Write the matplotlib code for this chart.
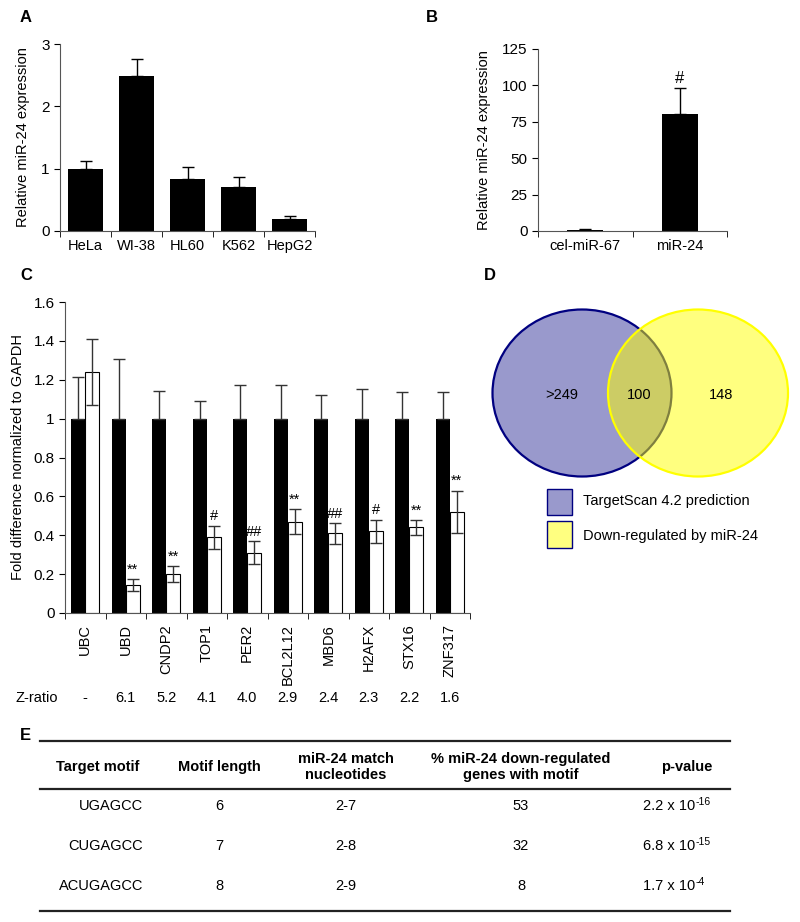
import matplotlib
matplotlib.use("Agg")
import matplotlib.pyplot as plt
from matplotlib.patches import Ellipse, Rectangle
import numpy as np

plt.rcParams['font.family'] = ['Liberation Sans', 'DejaVu Sans']
plt.rcParams['mathtext.default'] = 'regular'

W, H = 800, 922

# panel A
cell_lines = ["HeLa", "WI-38", "HL60", "K562", "HepG2"]
cell_expr = [1.0, 2.49, 0.84, 0.70, 0.20]
cell_err = [0.13, 0.27, 0.18, 0.16, 0.035]

# panel B
transfections = ["cel-miR-67", "miR-24"]
transf_expr = [1.0, 80.7]
transf_err = [0.5, 17.5]

# panel C
genes = ["UBC", "UBD", "CNDP2", "TOP1", "PER2", "BCL2L12", "MBD6", "H2AFX", "STX16", "ZNF317"]
ctrl_fold = [1, 1, 1, 1, 1, 1, 1, 1, 1, 1]
ctrl_err = [0.215, 0.305, 0.14, 0.093, 0.172, 0.172, 0.12, 0.15, 0.137, 0.137]
mir_fold = [1.24, 0.145, 0.20, 0.39, 0.31, 0.47, 0.41, 0.42, 0.44, 0.52]
mir_err = [0.17, 0.03, 0.04, 0.06, 0.06, 0.065, 0.053, 0.06, 0.04, 0.11]
signif = ["", "**", "**", "#", "##", "**", "##", "#", "**", "**"]
z_ratio = ["-", "6.1", "5.2", "4.1", "4.0", "2.9", "2.4", "2.3", "2.2", "1.6"]

# panel D
venn_counts = [">249", "100", "148"]
venn_labels = ["TargetScan 4.2 prediction", "Down-regulated by miR-24"]

# panel E
table_header = ["Target motif", "Motif length", "miR-24 match\nnucleotides",
                "% miR-24 down-regulated\ngenes with motif", "p-value"]
motifs = ["UGAGCC", "CUGAGCC", "ACUGAGCC"]
motif_len = [6, 7, 8]
match_nt = ["2-7", "2-8", "2-9"]
pct_motif = [53, 32, 8]
p_mant = ["2.2", "6.8", "1.7"]
p_exp = ["-16", "-15", "-4"]


def ax_at(l, t, r, b):
    return fig.add_axes([l / W, 1 - b / H, (r - l) / W, (b - t) / H])


def ftext(x, y, s, **kw):
    fig.text(x / W, 1 - y / H, s, **kw)


def excel_style(ax, n):
    for s in ["top", "right"]:
        ax.spines[s].set_visible(False)
    ax.set_xlim(-0.5, n - 0.5)
    ax.set_xticks(np.arange(n))
    ax.tick_params(axis="x", length=0, pad=6)
    ax.set_xticks(np.arange(n + 1) - 0.5, minor=True)
    ax.tick_params(axis="x", which="minor", length=4, direction="out")
    ax.tick_params(axis="y", length=4, direction="out", labelsize=11)
    for s in ["left", "bottom"]:
        ax.spines[s].set_color("#555555")


fig = plt.figure(figsize=(W / 100, H / 100), dpi=100)

# ---- A ----
ax_a = ax_at(60, 44, 315, 231)
xa = np.arange(len(cell_lines))
ax_a.bar(xa, cell_expr, width=0.7, color="black",
         yerr=[np.zeros(len(xa)), cell_err], capsize=4,
         error_kw=dict(ecolor="black", elinewidth=1, capthick=1))
excel_style(ax_a, len(cell_lines))
ax_a.set_xticklabels(cell_lines, fontsize=10.5)
ax_a.set_ylim(0, 3)
ax_a.set_yticks([0, 1, 2, 3])
ax_a.set_ylabel("Relative miR-24 expression", fontsize=10.5, labelpad=8)
ftext(20, 17, "A", fontsize=12, fontweight="bold", va="center")

# ---- B ----
ax_b = ax_at(538, 49, 727, 231)
xb = np.arange(len(transfections))
ax_b.bar(xb, transf_expr, width=0.38, color="black",
         yerr=[np.zeros(len(xb)), transf_err], capsize=4,
         error_kw=dict(ecolor="black", elinewidth=1, capthick=1))
excel_style(ax_b, len(transfections))
ax_b.set_xticklabels(transfections, fontsize=10.5)
ax_b.set_ylim(0, 125)
ax_b.set_yticks([0, 25, 50, 75, 100, 125])
ax_b.set_ylabel("Relative miR-24 expression", fontsize=10.5, labelpad=8)
ax_b.text(xb[1], transf_expr[1] + transf_err[1] + 1.5, "#", ha="center", va="bottom", fontsize=12)
ftext(426, 17, "B", fontsize=12, fontweight="bold", va="center")

# ---- C ----
ax_c = ax_at(65, 302, 470, 613)
xc = np.arange(len(genes))
bw = 0.34
ax_c.bar(xc - bw / 2, ctrl_fold, width=bw, color="black",
         yerr=[np.zeros(len(xc)), ctrl_err], capsize=4,
         error_kw=dict(ecolor="#333333", elinewidth=1, capthick=1))
ax_c.bar(xc + bw / 2, mir_fold, width=bw, color="white", edgecolor="black", linewidth=0.8,
         yerr=mir_err, capsize=4,
         error_kw=dict(ecolor="#333333", elinewidth=1, capthick=1))
excel_style(ax_c, len(genes))
ax_c.set_xticklabels(genes, rotation=90, fontsize=10.5)
ax_c.tick_params(axis="x", pad=8)
ax_c.set_ylim(0, 1.6)
yc = np.arange(0, 1.61, 0.2)
ax_c.set_yticks(yc)
ax_c.set_yticklabels(["%g" % round(v, 1) for v in yc])
ax_c.set_ylabel("Fold difference normalized to GAPDH", fontsize=10.5, labelpad=6)
for i, s in enumerate(signif):
    if s:
        ax_c.text(xc[i] + bw / 2, mir_fold[i] + mir_err[i] + 0.012, s,
                  ha="center", va="bottom", fontsize=10.5)
ftext(20, 276, "C", fontsize=12, fontweight="bold", va="center")

# z-ratio row
ftext(15, 698, "Z-ratio", fontsize=10.5, va="center")
for i, z in enumerate(z_ratio):
    xpix = 65 + (i + 0.5) * (470 - 65) / len(genes)
    ftext(xpix, 698, z, fontsize=10.5, ha="center", va="center")

# ---- D ----
ax_d = ax_at(480, 290, 800, 560)
ax_d.set_xlim(480, 800)
ax_d.set_ylim(560, 290)
ax_d.axis("off")
ax_d.add_patch(Ellipse((582, 393), 179, 167, facecolor="#9999CC", edgecolor="#000080", linewidth=1.6))
ax_d.add_patch(Ellipse((698, 393), 180, 167, facecolor=(1, 1, 0, 0.5), edgecolor="#FFFF00", linewidth=1.6))
for (xv, s) in zip([562, 639, 721], venn_counts):
    ax_d.text(xv, 395, s, ha="center", va="center", fontsize=10.5)
ax_d.add_patch(Rectangle((547, 489), 25, 26, facecolor="#9999CC", edgecolor="#000080", linewidth=1))
ax_d.add_patch(Rectangle((547, 521), 25, 27, facecolor="#FFFF80", edgecolor="#000080", linewidth=1))
ax_d.text(583, 501, venn_labels[0], va="center", fontsize=10.5)
ax_d.text(583, 536, venn_labels[1], va="center", fontsize=10.5)
ftext(484, 276, "D", fontsize=12, fontweight="bold", va="center")

# ---- E ----
ax_e = ax_at(0, 720, 800, 922)
ax_e.set_xlim(0, 800)
ax_e.set_ylim(922, 720)
ax_e.axis("off")
narrow = ["Liberation Sans Narrow", "Liberation Sans", "DejaVu Sans"]
ax_e.plot([40, 730], [741, 741], color="#222222", lw=1.6)
ax_e.plot([40, 730], [789, 789], color="#222222", lw=1.6)
ax_e.plot([40, 730], [911, 911], color="#222222", lw=1.6)
col_x = [98, 219, 346, 521, 687]
for cx, h in zip(col_x, table_header):
    ax_e.text(cx, 767, h, ha="center", va="center", fontsize=10.5, fontweight="bold",
              family=narrow, linespacing=1.1)
row_y = [806, 846, 886]
for i, ry in enumerate(row_y):
    ax_e.text(143, ry, motifs[i], ha="right", va="center", fontsize=10.5, family=narrow)
    ax_e.text(col_x[1], ry, str(motif_len[i]), ha="center", va="center", fontsize=10.5, family=narrow)
    ax_e.text(col_x[2], ry, match_nt[i], ha="center", va="center", fontsize=10.5, family=narrow)
    ax_e.text(col_x[3], ry, str(pct_motif[i]), ha="center", va="center", fontsize=10.5, family=narrow)
    ax_e.text(col_x[4] + 8, ry, "%s x 10" % p_mant[i], ha="right", va="center",
              fontsize=10.5, family=narrow)
    ax_e.text(col_x[4] + 9, ry - 4, p_exp[i], ha="left", va="center",
              fontsize=7.5, family=narrow)
ftext(20, 735, "E", fontsize=12, fontweight="bold", va="center")

fig.savefig("out.png", dpi=100)
